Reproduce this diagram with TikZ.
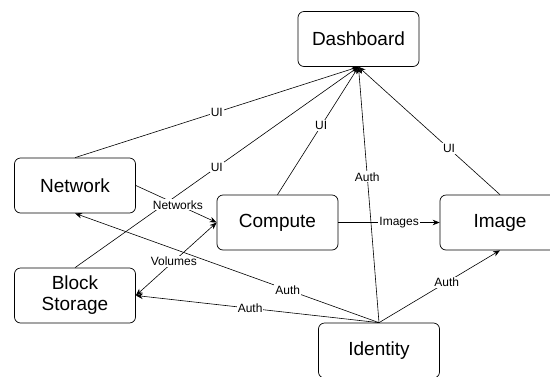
\documentclass[tikz,border=0pt]{standalone}
\usepackage{fontspec}
\setmainfont{Liberation Sans}
\usetikzlibrary{arrows.meta}

\begin{document}
\begin{tikzpicture}[x=1pt,y=-1pt,
    box/.style={draw, rounded corners=6pt, line width=0.7pt, minimum width=121pt,
        minimum height=55pt, align=center, font=\fontsize{19}{21}\selectfont},
    lbl/.style={fill=white, inner sep=1pt, font=\fontsize{12}{13}\selectfont},
    >={Stealth[length=7pt,width=5.5pt]}, line width=0.6pt]
    \useasboundingbox (0,0) rectangle (550,376);
    \clip (0,0) rectangle (550,376);
    % services
    \node[box] (dash) at (358.5,39) {Dashboard};
    \node[box] (net) at (75,185.5) {Network};
    \node[box] (block) at (75,295.5) {Block\\Storage};
    \node[box] (comp) at (277.5,222.5) {Compute};
    \node[box, minimum width=120pt] (img) at (500,222.5) {Image};
    \node[box] (ident) at (379,350.5) {Identity};
    % everything talks to the dashboard
    \foreach \src/\lab/\p in {net/UI/0.5, block/UI/0.5, comp/UI/0.54, ident/Auth/0.57, img/UI/0.36}
        \draw [->] (\src.north) -- node[lbl, pos=\p] {\lab} (dash.south);
    % compute links
    \draw [->] (net.east) -- node[lbl, pos=0.52] {Networks} (comp.west);
    \draw [<->] (comp.west) -- node[lbl, pos=0.53] {Volumes} (block.east);
    \draw [->] (comp.east) -- node[lbl, pos=0.6] {Images} (img.west);
    % identity
    \foreach \dst/\anc/\p in {net/south/0.3, block/east/0.53, img/south/0.56}
        \draw [->] (ident.north) -- node[lbl, pos=\p] {Auth} (\dst.\anc);
\end{tikzpicture}
\end{document}
